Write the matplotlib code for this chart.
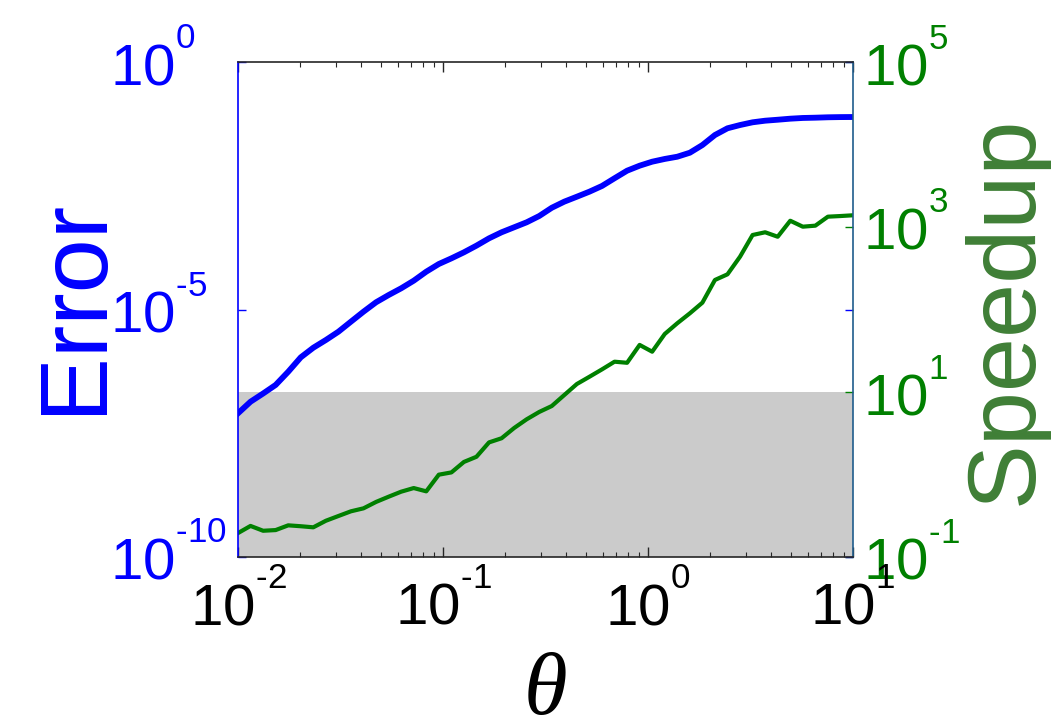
import matplotlib
matplotlib.use('Agg')
import matplotlib.pyplot as plt
import matplotlib._mathtext as mathtext_internal
from matplotlib.ticker import NullLocator
from matplotlib.transforms import ScaledTranslation

# theta grid (50 points, log spaced from 1e-2 to 1e1)
theta = [0.01, 0.01151, 0.01326, 0.01526, 0.01758, 0.02024, 0.02330, 0.02683,
         0.03089, 0.03556, 0.04095, 0.04715, 0.05429, 0.06251, 0.07197, 0.08286,
         0.09541, 0.1099, 0.1265, 0.1456, 0.1677, 0.1931, 0.2223, 0.2560,
         0.2947, 0.3393, 0.3907, 0.4498, 0.5179, 0.5964, 0.6866, 0.7906,
         0.9103, 1.048, 1.207, 1.389, 1.600, 1.842, 2.121, 2.442,
         2.812, 3.237, 3.728, 4.292, 4.942, 5.690, 6.551, 7.543, 8.685, 10.0]

error = [8.0e-8, 1.37e-7, 2.01e-7, 2.99e-7, 5.53e-7, 1.08e-6, 1.69e-6, 2.42e-6,
         3.56e-6, 5.68e-6, 9.04e-6, 1.40e-5, 1.96e-5, 2.68e-5, 3.82e-5, 5.81e-5,
         8.30e-5, 1.08e-4, 1.43e-4, 1.95e-4, 2.74e-4, 3.63e-4, 4.58e-4, 5.78e-4,
         7.74e-4, 1.135e-3, 1.51e-3, 1.90e-3, 2.40e-3, 3.13e-3, 4.48e-3, 6.37e-3,
         8.04e-3, 9.68e-3, 1.10e-2, 1.22e-2, 1.47e-2, 2.10e-2, 3.35e-2, 4.58e-2,
         5.33e-2, 6.05e-2, 6.52e-2, 6.82e-2, 7.16e-2, 7.40e-2, 7.50e-2, 7.64e-2,
         7.71e-2, 7.74e-2]

speedup = [0.195, 0.238, 0.208, 0.212, 0.242, 0.236, 0.229, 0.275,
           0.314, 0.358, 0.389, 0.465, 0.538, 0.619, 0.685, 0.625,
           0.995, 1.06, 1.42, 1.64, 2.45, 2.75, 3.66, 4.67,
           5.73, 6.76, 9.2, 12.5, 15.3, 18.8, 23.3, 22.6,
           37.2, 30.8, 50.5, 68.1, 89.9, 121, 228, 267,
           437, 800, 863, 762, 1191, 1009, 1038, 1334, 1358, 1387]

speedup_threshold = 10

x_ticks = [0.01, 0.1, 1, 10]
x_ticklabels = [r'$10^{\text{-}2}$', r'$10^{\text{-}1}$', r'$10^{0}$', r'$10^{1}$']
err_ticks = [1e-10, 1e-5, 1]
err_ticklabels = [r'$10^{\text{-}10}$', r'$10^{\text{-}5}$', r'$10^{0}$']
sp_ticks = [0.1, 10, 1e3, 1e5]
sp_ticklabels = [r'$10^{\text{-}1}$', r'$10^{1}$', r'$10^{3}$', r'$10^{5}$']

plt.rcParams['font.family'] = ['Liberation Sans', 'DejaVu Sans']
plt.rcParams['mathtext.fontset'] = 'custom'
plt.rcParams['mathtext.rm'] = 'Liberation Sans'
plt.rcParams['mathtext.it'] = 'Liberation Sans:italic'
plt.rcParams['mathtext.bf'] = 'Liberation Sans:bold'
# MATLAB-style exponents: smaller and raised higher
mathtext_internal.SHRINK_FACTOR = 0.6
mathtext_internal.FontConstantsBase.sup1 = 1.22

blue = '#0000ff'
green = '#008000'
label_green = '#3f7f36'
dark = '#262626'
edge = '#1f5c8c'

fig = plt.figure(figsize=(10.51, 7.18), dpi=100)
ax1 = fig.add_axes([238 / 1051, 1 - 557 / 718, 615 / 1051, 495 / 718])
ax2 = ax1.twinx()
ax1.set_zorder(ax2.get_zorder() + 1)
ax1.patch.set_visible(False)

ax1.set_xscale('log')
ax1.set_yscale('log')
ax2.set_yscale('log')
ax1.set_xlim(0.01, 10)
ax1.set_ylim(1e-10, 1)
ax2.set_ylim(0.1, 1e5)

# shaded region: speedup below threshold
ax2.axhspan(ax2.get_ylim()[0], speedup_threshold, color='#cbcbcb', lw=0, zorder=0)
ax2.plot(theta, speedup, color=green, lw=3, zorder=2)
ax1.plot(theta, error, color=blue, lw=4.2)

ax1.set_xticks(x_ticks)
ax1.set_xticklabels(x_ticklabels)
ax1.tick_params(axis='x', which='both', direction='in', top=True, bottom=True,
                color=dark, labelcolor='black', labelsize=42, pad=11)
ax1.tick_params(axis='x', which='major', length=7, width=1)
ax1.tick_params(axis='x', which='minor', length=3.5, width=0.8)

ax1.set_yticks(err_ticks)
ax1.set_yticklabels(err_ticklabels)
ax1.yaxis.set_minor_locator(NullLocator())
ax1.tick_params(axis='y', which='major', direction='in', left=True, right=True,
                length=6, width=1, colors=blue, labelsize=42, pad=92)

ax2.set_yticks(sp_ticks)
ax2.set_yticklabels(sp_ticklabels)
ax2.yaxis.set_minor_locator(NullLocator())
ax2.tick_params(axis='y', which='major', direction='in', length=6, width=1,
                colors=green, labelsize=42, pad=7)

# put the "10" of each y label centred on its tick
shift = ScaledTranslation(0, -23 / 100, fig.dpi_scale_trans)
for lab in ax1.get_yticklabels():
    lab.set_ha('left')
    lab.set_va('baseline')
    lab.set_transform(lab.get_transform() + shift)
for lab in ax2.get_yticklabels():
    lab.set_va('baseline')
    lab.set_transform(lab.get_transform() + shift)

for ax in (ax1, ax2):
    for s in ax.spines.values():
        s.set_linewidth(1.2)
ax1.spines['left'].set_color(blue)
ax1.spines['right'].set_color(edge)
ax1.spines['top'].set_color(dark)
ax1.spines['bottom'].set_color(dark)
for s in ('left', 'top', 'bottom', 'right'):
    ax2.spines[s].set_visible(False)

ax1.set_xlabel('θ', fontsize=64, fontstyle='italic', family='Liberation Serif',
               va='baseline')
ax1.xaxis.set_label_coords(0.5, -(714 - 557) / 495)

ax1.set_ylabel('Error', fontsize=70, color=blue, rotation=90,
               rotation_mode='anchor', ha='center', va='baseline')
ax1.yaxis.set_label_coords((100 - 238) / 615, (557 - 305.5) / 495)

ax2.set_ylabel('Speedup', fontsize=70, color=label_green, rotation=90,
               rotation_mode='anchor', ha='center', va='baseline')
ax2.yaxis.set_label_coords((1032 - 238) / 615, (557 - 310.5) / 495)

fig.savefig('out.png', dpi=100)
